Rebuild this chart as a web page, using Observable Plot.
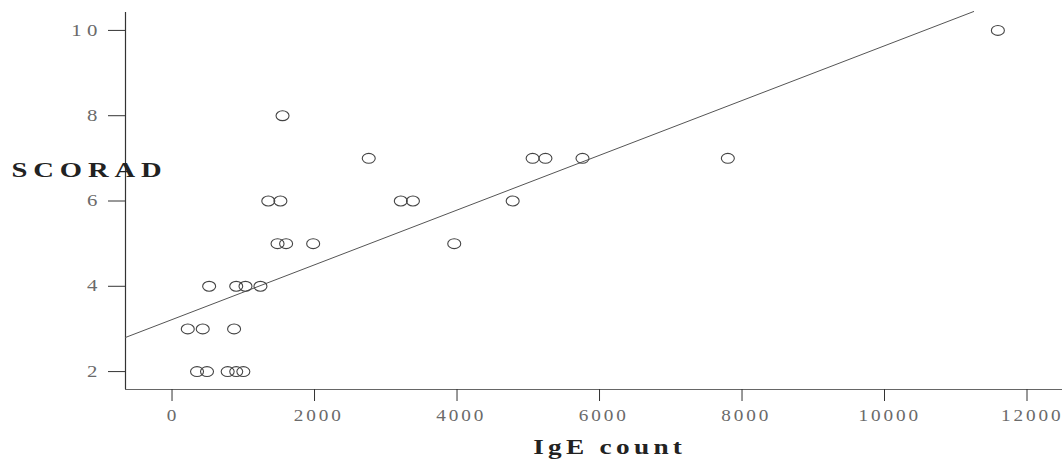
<!DOCTYPE html>
<html>
<head>
<meta charset="utf-8">
<script src="https://cdn.jsdelivr.net/npm/d3@7"></script>
<script src="https://cdn.jsdelivr.net/npm/@observablehq/plot@0.6"></script>
<style>
  html, body { margin: 0; padding: 0; background: #fff; }
  #chart svg { display: block; }
  #chart g[aria-label="x-axis tick label"] text { fill: #6a6a6a; letter-spacing: 2.4px; }
  #chart g[aria-label="y-axis tick label"] text { fill: #6a6a6a; letter-spacing: 4px; }
  #chart .ylab text { letter-spacing: 4.5px; }
  #chart .xlab text { letter-spacing: 3.3px; }
</style>
</head>
<body>
<div id="chart"></div>
<script>
// IgE count (x) and SCORAD (y) for each patient
const igeCount = [330, 470, 760, 880, 980,
                  200, 410, 850,
                  500, 880, 1010, 1220,
                  1460, 1580, 1960, 3940,
                  1330, 1500, 3190, 3360, 4760,
                  2740, 5040, 5220, 5740, 7780,
                  1530,
                  11570];
const scorad   = [2, 2, 2, 2, 2,
                  3, 3, 3,
                  4, 4, 4, 4,
                  5, 5, 5, 5,
                  6, 6, 6, 6, 6,
                  7, 7, 7, 7, 7,
                  8,
                  10];

// fitted regression line, as drawn in the figure
const fitIntercept = 3.233;
const fitSlope = 0.000642;
const fitRange = [-674, 11230];

// axes
const xTicks = [0, 2000, 4000, 6000, 8000, 10000, 12000];
const yTicks = [2, 4, 6, 8, 10];
const xDomain = [-674, 12477];
const yDomain = [1.58, 10.42];
const xLabel = "IgE count";
const yLabel = "SCORAD";

const points = igeCount.map((v, i) => ({ ige: v, scorad: scorad[i] }));
const fitLine = fitRange.map(x => ({ x, y: fitIntercept + fitSlope * x }));

// slightly wide open ellipse, like the stretched circles of the original
const ellipse = {
  draw(ctx, size) {
    const r = Math.sqrt(size / Math.PI), rx = r * 1.25, ry = r * 0.95, k = 0.5523;
    ctx.moveTo(rx, 0);
    ctx.bezierCurveTo(rx, ry * k, rx * k, ry, 0, ry);
    ctx.bezierCurveTo(-rx * k, ry, -rx, ry * k, -rx, 0);
    ctx.bezierCurveTo(-rx, -ry * k, -rx * k, -ry, 0, -ry);
    ctx.bezierCurveTo(rx * k, -ry, rx, -ry * k, rx, 0);
    ctx.closePath();
  }
};

const chart = Plot.plot({
  width: 1064,
  height: 463,
  marginLeft: 125,
  marginRight: 2,
  marginTop: 12,
  marginBottom: 74,
  style: { fontFamily: "'Liberation Serif', 'Times New Roman', serif", background: "#fff", color: "#333" },
  x: { domain: xDomain },
  y: { domain: yDomain },
  marks: [
    Plot.ruleX([xDomain[0]], { stroke: "#333", strokeWidth: 1.2 }),
    Plot.ruleY([yDomain[0]], { stroke: "#666", strokeWidth: 1.2 }),
    Plot.axisX({ ticks: xTicks, tickFormat: d => String(d), tickSize: 12, tickPadding: 8, fontSize: 16, dx: -1.5, label: null, stroke: "#333" }),
    Plot.axisY({ ticks: yTicks, tickFormat: d => String(d), tickSize: 17, tickPadding: 6, fontSize: 16, label: null, stroke: "#333" }),
    Plot.line(fitLine, { x: "x", y: "y", stroke: "#555", strokeWidth: 1 }),
    Plot.dot(points, { x: "ige", y: "scorad", r: 5.2, symbol: ellipse, stroke: "#444", fill: "none", strokeWidth: 1.1 }),
    Plot.text([yLabel], { frameAnchor: "top-left", dx: -54, dy: 157, fontSize: 22, fontWeight: "bold", fill: "#222", textAnchor: "middle", lineAnchor: "middle", className: "ylab" }),
    Plot.text([xLabel], { frameAnchor: "bottom", dx: -2, dy: 58, fontSize: 21, fontWeight: "bold", fill: "#222", textAnchor: "middle", lineAnchor: "middle", className: "xlab" })
  ]
});
document.getElementById("chart").appendChild(chart);

// the original's lettering is horizontally stretched: widen each text about its anchor
chart.querySelectorAll("text").forEach(t => {
  const isXTick = t.parentNode.getAttribute("aria-label") === "x-axis tick label";
  const stretch = isXTick ? 1.2 : 1.3;
  const b = t.getBBox();
  const anchor = t.getAttribute("text-anchor") || t.parentNode.getAttribute("text-anchor") || "start";
  const cx = anchor === "end" ? b.x + b.width : anchor === "middle" ? b.x + b.width / 2 : b.x;
  const orig = t.getAttribute("transform") || "";
  t.setAttribute("transform", `${orig} translate(${cx},0) scale(${stretch},1) translate(${-cx},0)`);
});
</script>
</body>
</html>
